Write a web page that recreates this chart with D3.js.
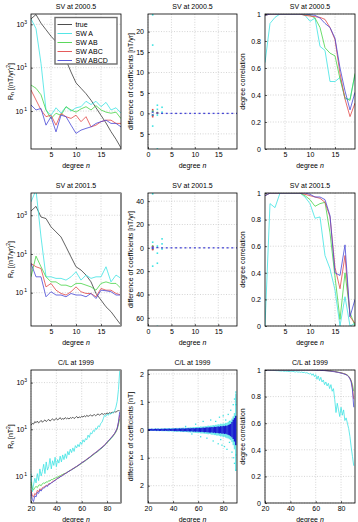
<!DOCTYPE html>
<html>
<head>
<meta charset="utf-8">
<script src="https://cdn.jsdelivr.net/npm/d3@7"></script>
<style>
  body { margin: 0; background: #fff; }
  text { font-family: "Liberation Sans", Arial, Helvetica, sans-serif; font-size: 7px; fill: #000; }
</style>
</head>
<body>
<script>
// ---- data (spectra are stored as log10 values) ----
const seriesNames = ["true", "SW A", "SW AB", "SW ABC", "SW ABCD"];
const seriesColors = ["#3a3a3a", "#3fe3e3", "#48d448", "#e24848", "#4848d6"];

const svDegrees = [1, 2, 3, 4, 5, 6, 7, 8, 9, 10, 11, 12, 13, 14, 15, 16, 17, 18, 19];
const clDegrees = [20, 21, 22, 23, 24, 25, 26, 27, 28, 29, 30, 31, 32, 33, 34, 35, 36, 37, 38, 39,
  40, 41, 42, 43, 44, 45, 46, 47, 48, 49, 50, 51, 52, 53, 54, 55, 56, 57, 58, 59,
  60, 61, 62, 63, 64, 65, 66, 67, 68, 69, 70, 71, 72, 73, 74, 75, 76, 77, 78, 79,
  80, 81, 82, 83, 84, 85, 86, 87, 88, 89, 90];

// SV at 2000.5, log10 R_n
const sv2000True = [3.25, 3.45, 3.05, 2.75, 2.45, 2.2, 1.9, 1.35, 0.8, 0.3, 0.05, -0.2, -0.5, -0.85, -1.2, -1.55, -1.95, -2.3, -2.7];
const sv2000A    = [3.25, 2.8, 1.2, -0.95, -1.2, -0.85, -1.1, -0.8, -1.0, -0.85, -0.8, -0.55, -0.7, -0.55, -0.8, -0.6, -0.95, -0.85, -1.1];
const sv2000AB   = [0.2, 0.05, -0.25, -0.95, -1.35, -1.1, -1.2, -0.8, -0.95, -1.05, -0.9, -0.8, -0.95, -0.75, -0.95, -1.05, -1.1, -1.05, -1.35];
const sv2000ABC  = [-0.03, -0.49, -0.95, -1.26, -1.19, -1.65, -1.11, -1.26, -1.34, -1.19, -1.49, -1.26, -1.73, -1.65, -1.49, -1.42, -1.42, -1.57, -1.57];
const sv2000ABCD = [-0.72, -0.95, -0.88, -1.65, -1.26, -1.96, -1.19, -1.26, -1.65, -2.03, -1.88, -1.8, -1.73, -1.57, -1.49, -1.42, -1.57, -1.57, -1.73];

// SV at 2001.5, log10 R_n
const sv2001True = [3.22, 3.46, 2.91, 2.83, 2.4, 2.14, 1.88, 1.37, 0.85, 0.34, 0.17, -0.09, -0.44, -1.04, -1.38, -1.73, -1.98, -2.33, -2.67];
const sv2001A    = [3.69, 4.3, 1.88, -0.18, -0.18, -0.26, -0.26, -0.35, -0.18, 0.08, -0.35, -0.09, -0.26, -0.18, -0.18, 0.34, -0.44, -0.09, -0.26];
const sv2001AB   = [-0.18, 0.89, 0.34, -0.18, -0.44, -0.44, -0.61, -0.61, -0.7, -0.52, -0.52, -0.61, -0.7, -0.87, -0.52, -0.44, -0.52, -0.52, -0.78];
const sv2001ABC  = [0.51, 0.34, 0.25, -0.7, -0.52, -0.87, -1.04, -1.12, -0.95, -0.7, -0.95, -1.04, -1.04, -1.21, -0.78, -0.87, -0.87, -1.04, -1.12];
const sv2001ABCD = [0.51, -0.18, -0.18, -1.21, -0.95, -1.12, -1.12, -1.21, -1.04, -1.12, -1.12, -1.21, -1.04, -1.3, -0.87, -0.9, -0.95, -1.12, -1.12];

// C/L at 1999, log10 R_n
const clTrue = [1.18, 1.25, 1.22, 1.33, 1.28, 1.35, 1.27, 1.32, 1.38, 1.3,
  1.36, 1.4, 1.33, 1.38, 1.42, 1.35, 1.4, 1.45, 1.38, 1.42,
  1.47, 1.4, 1.44, 1.5, 1.42, 1.46, 1.43, 1.5, 1.45, 1.48,
  1.44, 1.5, 1.47, 1.52, 1.46, 1.5, 1.55, 1.48, 1.53, 1.5,
  1.56, 1.52, 1.58, 1.53, 1.6, 1.55, 1.58, 1.62, 1.56, 1.6,
  1.63, 1.58, 1.62, 1.66, 1.6, 1.64, 1.68, 1.63, 1.67, 1.65,
  1.7, 1.66, 1.72, 1.68, 1.74, 1.7, 1.76, 1.73, 1.78, 1.8,
  1.79];
const clA = [-0.89, -1.68, -1.39, -1.1, -1.3, -0.9, -1.2, -0.7, -1.0, -0.8,
  -0.5, -0.9, -0.4, -0.75, -0.6, -0.25, -0.7, -0.35, -0.55, -0.2,
  -0.6, -0.3, -0.45, -0.15, -0.4, -0.1, -0.3, -0.05, -0.25, 0.05,
  -0.1, 0.15, 0.0, 0.2, 0.05, 0.3, 0.2, 0.35, 0.25, 0.45,
  0.35, 0.55, 0.45, 0.6, 0.55, 0.75, 0.65, 0.85, 0.8, 0.95,
  0.9, 1.05, 1.0, 1.15, 1.1, 1.25, 1.3, 1.45, 1.6, 1.55,
  1.65, 1.6, 1.68, 1.65, 1.7, 1.72, 1.8, 1.95, 2.2, 2.7,
  3.5];
const clAB = [-1.25, -1.55, -1.6, -1.5, -1.45, -1.5, -1.4, -1.38, -1.42, -1.33,
  -1.3, -1.32, -1.25, -1.27, -1.2, -1.22, -1.15, -1.17, -1.1, -1.11,
  -1.05, -1.06, -1.0, -1.01, -0.95, -0.94, -0.9, -0.9, -0.85, -0.83,
  -0.79, -0.77, -0.73, -0.71, -0.67, -0.64, -0.6, -0.57, -0.53, -0.5,
  -0.45, -0.42, -0.38, -0.35, -0.3, -0.27, -0.22, -0.19, -0.14, -0.1,
  -0.06, -0.02, 0.02, 0.06, 0.11, 0.15, 0.2, 0.25, 0.3, 0.35,
  0.41, 0.47, 0.53, 0.59, 0.65, 0.72, 0.8, 0.88, 1.0, 1.2,
  1.45];
const clABC = [-1.6, -1.85, -1.9, -1.75, -1.8, -1.62, -1.68, -1.55, -1.6, -1.5,
  -1.48, -1.45, -1.4, -1.42, -1.33, -1.34, -1.28, -1.26, -1.2, -1.19,
  -1.13, -1.12, -1.06, -1.05, -0.99, -0.97, -0.93, -0.9, -0.86, -0.84,
  -0.79, -0.77, -0.72, -0.7, -0.65, -0.63, -0.59, -0.56, -0.51, -0.48,
  -0.43, -0.41, -0.36, -0.33, -0.28, -0.25, -0.2, -0.17, -0.11, -0.08,
  -0.03, 0.0, 0.05, 0.09, 0.14, 0.18, 0.23, 0.27, 0.33, 0.38,
  0.45, 0.5, 0.57, 0.62, 0.69, 0.75, 0.83, 0.92, 1.05, 1.28,
  1.62];
const clABCD = [-1.7, -2.0, -2.1, -1.85, -1.9, -1.7, -1.75, -1.6, -1.65, -1.55,
  -1.52, -1.5, -1.42, -1.45, -1.36, -1.35, -1.3, -1.28, -1.22, -1.2,
  -1.15, -1.1, -1.09, -1.03, -1.02, -0.97, -0.95, -0.89, -0.88, -0.83,
  -0.8, -0.76, -0.74, -0.69, -0.67, -0.62, -0.6, -0.55, -0.53, -0.47,
  -0.44, -0.4, -0.38, -0.32, -0.3, -0.24, -0.22, -0.16, -0.13, -0.07,
  -0.04, 0.01, 0.03, 0.1, 0.12, 0.19, 0.21, 0.28, 0.31, 0.39,
  0.44, 0.51, 0.55, 0.63, 0.67, 0.76, 0.82, 0.93, 1.04, 1.32,
  1.75];

// degree correlation
const cor2000A    = [0.64, 0.93, 0.975, 1.0, 1.0, 1.0, 1.0, 1.0, 0.99, 0.946, 0.97, 0.76, 0.73, 0.5, 0.5, 0.53, 0.37, 0.37, 0.55];
const cor2000AB   = [0.99, 1.0, 1.0, 1.0, 1.0, 1.0, 1.0, 1.0, 0.995, 0.99, 0.97, 0.9, 0.75, 0.71, 0.69, 0.52, 0.38, 0.36, 0.56];
const cor2000ABC  = [0.99, 1.0, 1.0, 1.0, 1.0, 1.0, 1.0, 1.0, 0.99, 0.985, 0.98, 0.975, 0.96, 0.9, 0.81, 0.56, 0.37, 0.24, 0.34];
const cor2000ABCD = [0.99, 1.0, 1.0, 1.0, 1.0, 1.0, 1.0, 1.0, 1.0, 0.995, 0.99, 0.97, 0.93, 0.9, 0.82, 0.6, 0.43, 0.29, 0.42];

const cor2001A    = [0.0, 0.92, 0.89, 1.0, 1.0, 1.0, 1.0, 1.0, 0.97, 0.92, 0.81, 0.82, 0.53, 0.43, 0.27, 0.0, 0.22, 0.0, 0.02];
const cor2001AB   = [0.98, 1.0, 1.0, 1.0, 1.0, 1.0, 1.0, 1.0, 0.98, 0.95, 0.9, 0.92, 0.93, 0.7, 0.37, 0.05, 0.4, 0.1, 0.0];
const cor2001ABC  = [0.98, 1.0, 1.0, 1.0, 1.0, 1.0, 1.0, 1.0, 0.99, 0.98, 0.97, 0.96, 0.93, 0.82, 0.44, 0.28, 0.53, 0.07, 0.02];
const cor2001ABCD = [0.98, 1.0, 1.0, 1.0, 1.0, 1.0, 1.0, 1.0, 1.0, 0.99, 0.97, 0.97, 0.95, 0.83, 0.4, 0.38, 0.61, 0.07, 0.2];

const clCorA = [1.0, 1.0, 0.999, 0.999, 0.998, 0.998, 0.997, 0.997, 0.996, 0.995,
  0.995, 0.994, 0.993, 0.992, 0.994, 0.99, 0.992, 0.989, 0.99, 0.988,
  0.99, 0.988, 0.99, 0.987, 0.985, 0.988, 0.984, 0.986, 0.982, 0.985,
  0.98, 0.983, 0.978, 0.98, 0.975, 0.97, 0.976, 0.96, 0.972, 0.95,
  0.965, 0.93, 0.955, 0.92, 0.945, 0.91, 0.925, 0.89, 0.91, 0.88,
  0.9, 0.86, 0.89, 0.84, 0.86, 0.78, 0.68, 0.75, 0.7, 0.65,
  0.72, 0.66, 0.7, 0.62, 0.64, 0.6, 0.56, 0.5, 0.42, 0.35,
  0.28];
const clCorAB = [1, 1, 1, 1, 1, 1, 1, 1, 1, 1,
  1, 1, 1, 1, 1, 1, 1, 1, 1, 1,
  1, 1, 1, 1, 1, 1, 1, 1, 1, 1,
  1, 1, 1, 1, 1, 1, 1, 1, 1, 0.999,
  0.999, 0.999, 0.998, 0.998, 0.998, 0.997, 0.997, 0.996, 0.996, 0.995,
  0.994, 0.993, 0.992, 0.991, 0.99, 0.988, 0.987, 0.985, 0.983, 0.981,
  0.979, 0.977, 0.974, 0.971, 0.967, 0.962, 0.953, 0.94, 0.92, 0.89,
  0.84];
const clCorABC = [1, 1, 1, 1, 1, 1, 1, 1, 1, 1,
  1, 1, 1, 1, 1, 1, 1, 1, 1, 1,
  1, 1, 1, 1, 1, 1, 1, 1, 1, 1,
  1, 1, 1, 1, 1, 1, 1, 1, 1, 0.999,
  0.999, 0.999, 0.998, 0.998, 0.997, 0.997, 0.997, 0.996, 0.995, 0.995,
  0.994, 0.993, 0.992, 0.99, 0.989, 0.988, 0.986, 0.984, 0.982, 0.98,
  0.978, 0.976, 0.973, 0.97, 0.966, 0.96, 0.951, 0.937, 0.915, 0.87,
  0.78];
const clCorABCD = [1, 1, 1, 1, 1, 1, 1, 1, 1, 1,
  1, 1, 1, 1, 1, 1, 1, 1, 1, 1,
  1, 1, 1, 1, 1, 1, 1, 1, 1, 1,
  1, 1, 1, 1, 1, 1, 1, 1, 1, 0.999,
  0.999, 0.998, 0.998, 0.998, 0.997, 0.997, 0.996, 0.996, 0.995, 0.994,
  0.993, 0.992, 0.991, 0.99, 0.988, 0.987, 0.985, 0.983, 0.981, 0.979,
  0.977, 0.974, 0.971, 0.968, 0.964, 0.958, 0.949, 0.934, 0.91, 0.85,
  0.72];

// difference of coefficients: [degree, value]
const sv2000DiffA = [[1, 24.1], [1, 16.7], [1, -3.1], [1, 0.6], [1, -0.4], [2, 2.0], [2, 1.0], [2, -8.7], [2, -0.4], [3, 1.5], [3, 0.3]];
const sv2000DiffAB = [[1, 0.5], [1, -0.5], [2, 0.2]];
const sv2000DiffABC = [[1, 0.9], [1, -0.8], [2, 0.1]];
const sv2000DiffABCD = [[1, 0.3], [1, -0.4], [2, 0.1], [3, 0.0], [4, 0.0], [5, 0.0], [6, 0.0], [7, 0.0], [8, 0.0], [9, 0.0],
  [10, 0.0], [11, 0.0], [12, 0.0], [13, 0.0], [14, 0.0], [15, 0.0], [16, 0.0], [17, 0.0], [18, 0.0], [19, 0.0]];

const sv2001DiffA = [[1, 46.3], [1, 4.8], [1, -15.7], [1, 1.0], [2, -4.6], [2, -13.2], [2, -67.4], [2, 1.5], [3, 7.7], [3, 3.4], [3, -1.0]];
const sv2001DiffAB = [[1, 1.5], [1, -1.2]];
const sv2001DiffABC = [[1, 1.0], [1, -1.5]];
const sv2001DiffABCD = [[1, 0.5], [1, -0.6], [2, 0.2], [3, 0.0], [4, 0.0], [5, 0.0], [6, 0.0], [7, 0.0], [8, 0.0], [9, 0.0],
  [10, 0.0], [11, 0.0], [12, 0.0], [13, 0.0], [14, 0.0], [15, 0.0], [16, 0.0], [17, 0.0], [18, 0.0], [19, 0.0]];

// C/L: spread of the differences per degree (upper value, lower value magnitude)
const clDiffAHi = [0.03, 0.04, 0.04, 0.03, 0.04, 0.04, 0.05, 0.04, 0.05, 0.04,
  0.05, 0.04, 0.05, 0.05, 0.05, 0.06, 0.05, 0.06, 0.06, 0.05,
  0.06, 0.06, 0.06, 0.07, 0.06, 0.07, 0.07, 0.07, 0.08, 0.07,
  0.08, 0.07, 0.08, 0.08, 0.09, 0.08, 0.1, 0.09, 0.1, 0.1,
  0.11, 0.1, 0.12, 0.11, 0.12, 0.12, 0.13, 0.13, 0.15, 0.14,
  0.15, 0.15, 0.17, 0.16, 0.18, 0.18, 0.2, 0.19, 0.22, 0.21,
  0.23, 0.22, 0.25, 0.25, 0.28, 0.3, 0.33, 0.4, 0.48, 0.6,
  1.3];
const clDiffALo = [0.03, 0.03, 0.04, 0.04, 0.03, 0.04, 0.04, 0.05, 0.04, 0.05,
  0.04, 0.05, 0.05, 0.05, 0.05, 0.05, 0.06, 0.06, 0.05, 0.06,
  0.06, 0.06, 0.07, 0.07, 0.06, 0.07, 0.08, 0.07, 0.08, 0.08,
  0.08, 0.08, 0.09, 0.09, 0.1, 0.09, 0.1, 0.1, 0.11, 0.11,
  0.12, 0.11, 0.13, 0.13, 0.13, 0.14, 0.14, 0.15, 0.16, 0.15,
  0.16, 0.18, 0.17, 0.19, 0.19, 0.21, 0.2, 0.22, 0.24, 0.23,
  0.26, 0.25, 0.28, 0.3, 0.31, 0.34, 0.37, 0.44, 0.55, 0.7,
  1.45];
const clDiffABCDHi = [0.03, 0.03, 0.03, 0.04, 0.03, 0.03, 0.04, 0.03, 0.04, 0.03,
  0.03, 0.04, 0.03, 0.04, 0.04, 0.03, 0.04, 0.04, 0.03, 0.04,
  0.04, 0.04, 0.05, 0.04, 0.04, 0.05, 0.04, 0.05, 0.05, 0.04,
  0.05, 0.05, 0.06, 0.05, 0.05, 0.06, 0.06, 0.05, 0.06, 0.07,
  0.06, 0.07, 0.06, 0.07, 0.08, 0.07, 0.08, 0.09, 0.08, 0.09,
  0.09, 0.1, 0.09, 0.11, 0.1, 0.11, 0.12, 0.11, 0.13, 0.12,
  0.14, 0.13, 0.15, 0.14, 0.17, 0.19, 0.21, 0.28, 0.36, 0.42,
  0.5];
const clDiffABCDLo = [0.03, 0.04, 0.03, 0.03, 0.04, 0.03, 0.03, 0.04, 0.03, 0.04,
  0.04, 0.03, 0.04, 0.04, 0.03, 0.04, 0.04, 0.03, 0.04, 0.04,
  0.04, 0.05, 0.04, 0.05, 0.05, 0.04, 0.05, 0.05, 0.06, 0.05,
  0.05, 0.06, 0.05, 0.06, 0.06, 0.05, 0.07, 0.06, 0.07, 0.06,
  0.07, 0.07, 0.08, 0.07, 0.08, 0.09, 0.08, 0.09, 0.09, 0.1,
  0.1, 0.09, 0.11, 0.1, 0.12, 0.11, 0.12, 0.13, 0.12, 0.14,
  0.13, 0.15, 0.14, 0.16, 0.18, 0.2, 0.23, 0.27, 0.33, 0.42,
  0.55];
const clDiffAOutliers = [[50, 0.12], [55, -0.15], [58, 0.2], [62, -0.25], [64, 0.3], [67, -0.3], [70, 0.35], [72, -0.4],
  [74, 0.3], [76, -0.5], [77, 0.45], [78, -0.35], [79, -0.55], [80, 0.5], [81, -0.6], [82, 0.35], [83, -0.7],
  [84, 0.55], [85, -0.45], [85, 0.3], [86, 0.7], [87, -0.8], [88, 0.9], [88, -1.0], [89, 1.1], [89, -1.2],
  [90, 1.35], [90, -1.45], [90, 0.9], [90, -0.9]];

// ---- layout ----
const W = 358, H = 522;
const colX = [[31, 121], [148, 237], [265, 355]];
const rowY = [[14, 149], [193, 326], [370, 503]];

const svg = d3.select("body").append("svg")
  .attr("width", W)
  .attr("height", H);

function panel(ci, ri, x, y, xTicks, yTicks, fmtY, title) {
  const [x0, x1] = colX[ci], [y0, y1] = rowY[ri];
  x.range([x0, x1]);
  y.range([y1, y0]);
  const g = svg.append("g");
  const id = "clip-" + ci + "-" + ri;
  g.append("clipPath").attr("id", id).append("rect")
    .attr("x", x0).attr("y", y0).attr("width", x1 - x0).attr("height", y1 - y0);

  // dotted grid
  const grid = g.append("g")
    .attr("stroke", "#b8b8b8")
    .attr("stroke-width", 0.6)
    .attr("stroke-dasharray", "1,1.6");
  grid.selectAll("line.v").data(xTicks).join("line").attr("class", "v")
    .attr("x1", d => x(d)).attr("x2", d => x(d)).attr("y1", y0).attr("y2", y1);
  grid.selectAll("line.h").data(yTicks).join("line").attr("class", "h")
    .attr("x1", x0).attr("x2", x1).attr("y1", d => y(d)).attr("y2", d => y(d));

  const plot = g.append("g").attr("clip-path", "url(#" + id + ")");
  const top = g.append("g");

  const xa = top.append("g")
    .attr("transform", "translate(0," + y1 + ")")
    .call(d3.axisBottom(x).tickValues(xTicks).tickSizeInner(-2).tickSizeOuter(0).tickPadding(3.5));
  const ya = top.append("g")
    .attr("transform", "translate(" + x0 + ",0)")
    .call(d3.axisLeft(y).tickValues(yTicks).tickFormat(fmtY || null).tickSizeInner(-2).tickSizeOuter(0).tickPadding(4));
  [xa, ya].forEach(a => {
    a.select(".domain").remove();
    a.selectAll(".tick line").attr("stroke-width", 0.6);
  });

  top.append("rect")
    .attr("x", x0).attr("y", y0).attr("width", x1 - x0).attr("height", y1 - y0)
    .attr("fill", "none").attr("stroke", "#000").attr("stroke-width", 0.8);

  top.append("text")
    .attr("x", (x0 + x1) / 2).attr("y", y0 - 5.5)
    .attr("text-anchor", "middle")
    .text(title);

  const xl = top.append("text")
    .attr("x", (x0 + x1) / 2).attr("y", y1 + 18.5)
    .attr("text-anchor", "middle");
  xl.append("tspan").text("degree ");
  xl.append("tspan").attr("font-style", "italic").text("n");

  return {g, plot, top, ya, x, y, x0, x1, y0, y1};
}

function logLabels(ya) {
  ya.selectAll(".tick text").each(function(d) {
    const t = d3.select(this).text("");
    const e = Math.round(Math.log10(d));
    t.append("tspan").text("10");
    // the printed figure lost its minus signs, keep the digits only
    t.append("tspan").attr("dy", -3).attr("dx", e < 0 ? 1 : 0).style("font-size", "5px").text(Math.abs(e));
  });
}

function yLabel(p, xPos, build) {
  const t = p.top.append("text")
    .attr("transform", "translate(" + xPos + "," + ((p.y0 + p.y1) / 2) + ") rotate(-90)")
    .attr("text-anchor", "middle");
  build(t);
}

function rnLabel(unit) {
  return t => {
    t.append("tspan").text("R");
    t.append("tspan").attr("dy", 1.5).style("font-size", "5px").text("n");
    t.append("tspan").attr("dy", -1.5).text(" [" + unit);
    t.append("tspan").attr("dy", -3).style("font-size", "5px").text("2");
    t.append("tspan").attr("dy", 3).text("]");
  };
}

function drawLines(p, degrees, series, toValue) {
  const line = d3.line()
    .x((d, i) => p.x(degrees[i]))
    .y(d => p.y(toValue(d)));
  series.forEach((s, k) => {
    p.plot.append("path")
      .attr("d", line(s))
      .attr("fill", "none")
      .attr("stroke", seriesColors[k])
      .attr("stroke-width", 0.8);
  });
}

function dots(p, pts, color, w, h) {
  p.plot.append("g").selectAll("rect").data(pts).join("rect")
    .attr("x", d => p.x(d[0]) - w / 2)
    .attr("y", d => p.y(d[1]) - h / 2)
    .attr("width", w).attr("height", h)
    .attr("fill", color);
}

const pow10 = v => Math.pow(10, v);
const svXTicks = [5, 10, 15];
const diffXTicks = [0, 5, 10, 15];
const clXTicks = [20, 40, 60, 80];
const logTicks = [0.1, 10, 1000];
const corTicks = [0, 0.2, 0.4, 0.6, 0.8, 1];
const absFmt = d => Math.abs(d);

// ---- column 1: spectra ----
const spectra = [
  {ri: 0, title: "SV at 2000.5", dom: [-2.75, 3.475], deg: svDegrees, xd: [1, 19], xt: svXTicks, unit: "(nT/yr)",
   s: [sv2000True, sv2000A, sv2000AB, sv2000ABC, sv2000ABCD]},
  {ri: 1, title: "SV at 2001.5", dom: [-2.72, 4.15], deg: svDegrees, xd: [1, 19], xt: svXTicks, unit: "(nT/yr)",
   s: [sv2001True, sv2001A, sv2001AB, sv2001ABC, sv2001ABCD]},
  {ri: 2, title: "C/L at 1999", dom: [-2.16, 3.54], deg: clDegrees, xd: [20, 91], xt: clXTicks, unit: "nT",
   s: [clTrue, clA, clAB, clABC, clABCD]}
];
spectra.forEach(c => {
  const p = panel(0, c.ri, d3.scaleLinear().domain(c.xd), d3.scaleLog().domain(c.dom.map(pow10)),
    c.xt, logTicks, null, c.title);
  logLabels(p.ya);
  drawLines(p, c.deg, c.s, pow10);
  yLabel(p, 12.5, rnLabel(c.unit));
  if (c.ri > 0) {
    p.top.append("line")
      .attr("x1", p.x1).attr("x2", p.x1).attr("y1", p.y0).attr("y2", p.y1)
      .attr("stroke", "#8a8a8a").attr("stroke-width", 2);
  }
  if (c.ri === 0) {
    const lg = p.top.append("g");
    lg.append("rect")
      .attr("x", 55).attr("y", 17.5).attr("width", 62).attr("height", 46.5)
      .attr("fill", "#fff").attr("stroke", "#6e6e6e").attr("stroke-width", 1.4);
    seriesNames.forEach((name, k) => {
      const yy = 24.5 + k * 9;
      lg.append("line").attr("x1", 57.5).attr("x2", 72).attr("y1", yy).attr("y2", yy)
        .attr("stroke", seriesColors[k]).attr("stroke-width", 0.9);
      lg.append("text").attr("x", 75.5).attr("y", yy + 2.4).text(name);
    });
  }
});

// ---- column 2: coefficient differences ----
const diffs = [
  {ri: 0, title: "SV at 2000.5", dom: [-8.7, 24.3], yt: [-5, 0, 5, 10, 15, 20], unit: "[nT/yr]",
   pts: [sv2000DiffA, sv2000DiffAB, sv2000DiffABC, sv2000DiffABCD]},
  {ri: 1, title: "SV at 2001.5", dom: [-67, 47], yt: [-60, -40, -20, 0, 20, 40], unit: "[nT/yr]",
   pts: [sv2001DiffA, sv2001DiffAB, sv2001DiffABC, sv2001DiffABCD]}
];
diffs.forEach(c => {
  const p = panel(1, c.ri, d3.scaleLinear().domain([0, 19]), d3.scaleLinear().domain(c.dom),
    diffXTicks, c.yt, absFmt, c.title);
  c.pts.forEach((pts, k) => dots(p, pts, seriesColors[k + 1], k === 3 ? 2 : 1.6, k === 3 ? 1.3 : 1.6));
  yLabel(p, 132.5, t => t.text("difference of coefficients " + c.unit));
});
{
  const p = panel(1, 2, d3.scaleLinear().domain([20, 91]), d3.scaleLinear().domain([-2.62, 2.14]),
    clXTicks, [-2, -1, 0, 1, 2], absFmt, "C/L at 1999");
  const colW = 1.4;
  p.plot.append("g").selectAll("rect").data(clDegrees).join("rect")
    .attr("x", d => p.x(d) - colW / 2).attr("width", colW)
    .attr("y", (d, i) => p.y(clDiffAHi[i]))
    .attr("height", (d, i) => p.y(-clDiffALo[i]) - p.y(clDiffAHi[i]))
    .attr("fill", seriesColors[1]).attr("opacity", 0.75);
  dots(p, clDiffAOutliers, seriesColors[1], 1.3, 1.3);
  p.plot.append("g").selectAll("rect").data(clDegrees).join("rect")
    .attr("x", d => p.x(d) - colW / 2).attr("width", colW)
    .attr("y", (d, i) => p.y(clDiffABCDHi[i]))
    .attr("height", (d, i) => p.y(-clDiffABCDLo[i]) - p.y(clDiffABCDHi[i]))
    .attr("fill", "#1a1ad0");
  yLabel(p, 132.5, t => t.text("difference of coefficients [nT]"));
}

// ---- column 3: degree correlation ----
const cors = [
  {ri: 0, title: "SV at 2000.5", deg: svDegrees, xd: [1, 19], xt: svXTicks, s: [cor2000A, cor2000AB, cor2000ABC, cor2000ABCD]},
  {ri: 1, title: "SV at 2001.5", deg: svDegrees, xd: [1, 19], xt: svXTicks, s: [cor2001A, cor2001AB, cor2001ABC, cor2001ABCD]},
  {ri: 2, title: "C/L at 1999", deg: clDegrees, xd: [20, 91], xt: clXTicks, s: [clCorA, clCorAB, clCorABC, clCorABCD]}
];
cors.forEach(c => {
  const p = panel(2, c.ri, d3.scaleLinear().domain(c.xd), d3.scaleLinear().domain([0, 1]),
    c.xt, corTicks, d3.format("~g"), c.title);
  const line = d3.line().x((d, i) => p.x(c.deg[i])).y(d => p.y(d));
  c.s.forEach((s, k) => {
    p.plot.append("path").attr("d", line(s))
      .attr("fill", "none").attr("stroke", seriesColors[k + 1]).attr("stroke-width", 0.8);
  });
  yLabel(p, 244.5, t => t.text("degree correlation"));
});
</script>
</body>
</html>
